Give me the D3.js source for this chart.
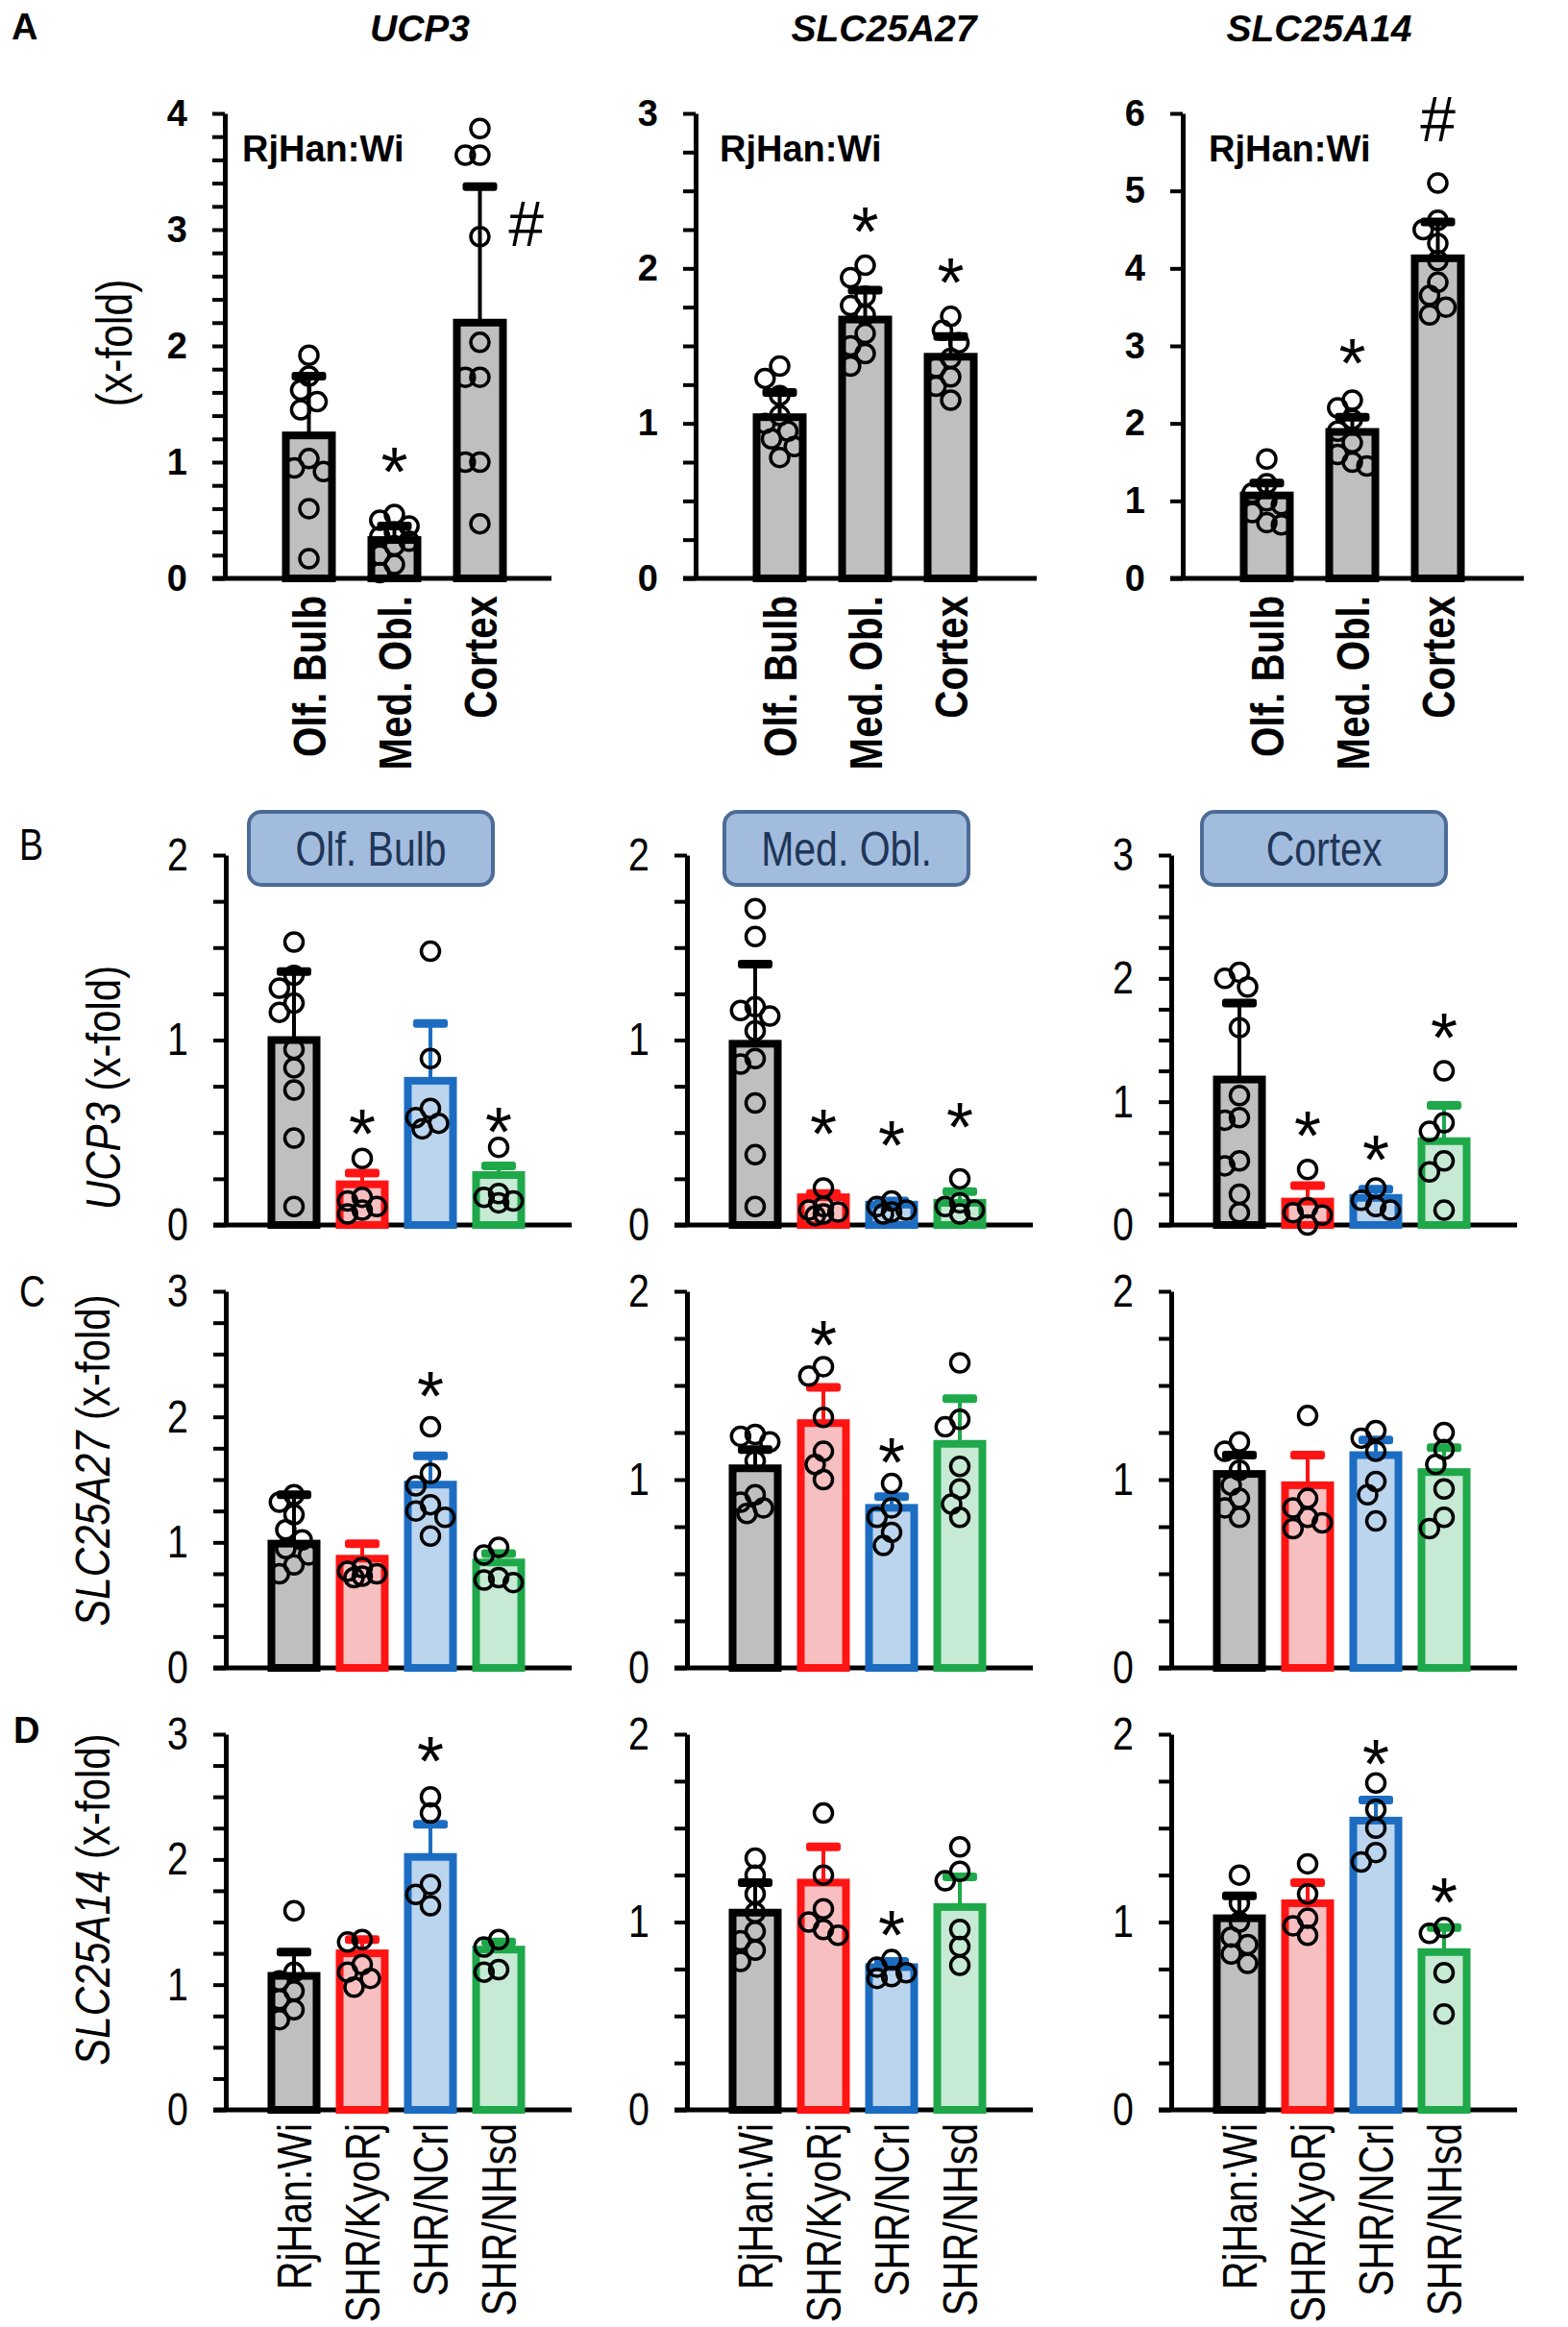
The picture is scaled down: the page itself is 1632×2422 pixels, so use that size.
<!DOCTYPE html>
<html>
<head>
<meta charset="utf-8">
<script src="https://cdn.jsdelivr.net/npm/d3@7"></script>
<style>
  body { margin: 0; background: #fff; }
  svg { display: block; }
</style>
</head>
<body>
<svg width="1632" height="2422"></svg>
<script>
// categorias
const regions = ["Olf. Bulb", "Med. Obl.", "Cortex"];
const strains = ["RjHan:Wi", "SHR/KyoRj", "SHR/NCrl", "SHR/NHsd"];
const genes = ["UCP3", "SLC25A27", "SLC25A14"];

// ---- panel A (RjHan:Wi, regiones) ----
const aUcp3Mean = [1.23, 0.33, 2.2];
const aUcp3Sd = [0.51, 0.12, 1.17];
const aUcp3Pts = [
  [1.92, 1.74, 1.62, 1.52, 1.45, 1.03, 0.95, 0.92, 0.6, 0.17],
  [0.55, 0.5, 0.45, 0.4, 0.36, 0.32, 0.28, 0.2, 0.12, 0.05],
  [3.87, 3.64, 3.64, 2.94, 2.03, 1.73, 1.73, 1.0, 1.0, 0.47]];
const aUcp3Sig = ["", "*", "#"];
const aUcp3SigAt = [null, 1.04, 3.05];

const aSlc27Mean = [1.04, 1.67, 1.43];
const aSlc27Sd = [0.16, 0.19, 0.13];
const aSlc27Pts = [
  [1.37, 1.29, 1.18, 1.05, 1.0, 0.95, 0.9, 0.85, 0.78],
  [2.02, 1.94, 1.82, 1.76, 1.7, 1.58, 1.5, 1.45, 1.37],
  [1.69, 1.6, 1.52, 1.42, 1.36, 1.3, 1.24, 1.15]];
const aSlc27Sig = ["", "*", "*"];
const aSlc27SigAt = [null, 2.33, 2.0];

const aSlc14Mean = [1.07, 1.89, 4.13];
const aSlc14Sd = [0.16, 0.19, 0.47];
const aSlc14Pts = [
  [1.54, 1.22, 1.1, 1.0, 0.95, 0.85, 0.72, 0.69],
  [2.3, 2.2, 2.05, 1.9, 1.75, 1.6, 1.5, 1.45],
  [5.1, 4.62, 4.5, 4.32, 4.1, 3.82, 3.65, 3.5, 3.4]];
const aSlc14Sig = ["", "*", "#"];
const aSlc14SigAt = [null, 2.96, 5.92];

// ---- panel B (UCP3 por cepa) ----
const bOlfMean = [1.0, 0.22, 0.78, 0.27];
const bOlfSd = [0.37, 0.06, 0.31, 0.05];
const bOlfPts = [
  [1.53, 1.35, 1.28, 1.2, 1.15, 0.95, 0.85, 0.73, 0.47, 0.1],
  [0.36, 0.15, 0.13, 0.1, 0.08, 0.06],
  [1.48, 0.9, 0.63, 0.58, 0.55, 0.52],
  [0.42, 0.17, 0.15, 0.13, 0.12]];
const bOlfSig = ["", "*", "", "*"];
const bOlfSigAt = [null, 0.57, null, 0.58];

const bMedMean = [0.98, 0.15, 0.11, 0.12];
const bMedSd = [0.43, 0.02, 0.02, 0.06];
const bMedPts = [
  [1.71, 1.56, 1.18, 1.16, 1.13, 1.05, 0.9, 0.87, 0.66, 0.38, 0.1],
  [0.2, 0.1, 0.08, 0.07, 0.06, 0.05],
  [0.13, 0.1, 0.08, 0.07, 0.06],
  [0.25, 0.12, 0.1, 0.08, 0.06]];
const bMedSig = ["", "*", "*", "*"];
const bMedSigAt = [null, 0.57, 0.51, 0.61];

const bCtxMean = [1.18, 0.19, 0.22, 0.68];
const bCtxSd = [0.62, 0.13, 0.07, 0.29];
const bCtxPts = [
  [2.05, 2.0, 1.93, 1.6, 1.05, 0.87, 0.85, 0.52, 0.48, 0.25, 0.1],
  [0.45, 0.14, 0.1, 0.08, 0.0],
  [0.3, 0.2, 0.15, 0.12],
  [1.25, 0.83, 0.76, 0.52, 0.43, 0.12]];
const bCtxSig = ["", "*", "*", "*"];
const bCtxSigAt = [null, 0.84, 0.65, 1.64];

// ---- panel C (SLC25A27 por cepa) ----
const cOlfMean = [0.99, 0.87, 1.46, 0.84];
const cOlfSd = [0.39, 0.12, 0.23, 0.07];
const cOlfPts = [
  [1.38, 1.32, 1.22, 1.1, 1.02, 0.95, 0.9, 0.82, 0.75],
  [0.8, 0.77, 0.75, 0.73, 0.72],
  [1.92, 1.55, 1.45, 1.3, 1.25, 1.2, 1.05],
  [0.96, 0.9, 0.72, 0.7, 0.68]];
const cOlfSig = ["", "", "*", ""];
const cOlfSigAt = [null, null, 2.28, null];

const cMedMean = [1.06, 1.3, 0.85, 1.19];
const cMedSd = [0.1, 0.19, 0.06, 0.24];
const cMedPts = [
  [1.24, 1.23, 1.2, 1.1, 0.92, 0.88, 0.85, 0.82],
  [1.6, 1.55, 1.33, 1.15, 1.08, 1.0],
  [0.98, 0.85, 0.8, 0.72, 0.65],
  [1.62, 1.32, 1.28, 1.07, 0.95, 0.87, 0.8]];
const cMedSig = ["", "*", "*", ""];
const cMedSigAt = [null, 1.79, 1.17, null];

const cCtxMean = [1.03, 0.97, 1.13, 1.04];
const cCtxSd = [0.1, 0.16, 0.08, 0.13];
const cCtxPts = [
  [1.2, 1.15, 1.05, 0.97, 0.9, 0.85, 0.8],
  [1.34, 0.9, 0.85, 0.8, 0.77, 0.74],
  [1.26, 1.22, 1.15, 0.99, 0.92, 0.78],
  [1.25, 1.16, 1.08, 0.95, 0.8, 0.74]];
const cCtxSig = ["", "", "", ""];
const cCtxSigAt = [null, null, null, null];

// ---- panel D (SLC25A14 por cepa) ----
const dOlfMean = [1.07, 1.25, 2.02, 1.28];
const dOlfSd = [0.19, 0.11, 0.26, 0.06];
const dOlfPts = [
  [1.59, 1.1, 1.03, 0.95, 0.88, 0.8, 0.72],
  [1.36, 1.34, 1.16, 1.1, 1.05, 0.98],
  [2.5, 2.37, 1.8, 1.72, 1.63],
  [1.36, 1.3, 1.12, 1.1]];
const dOlfSig = ["", "", "*", ""];
const dOlfSigAt = [null, null, 2.9, null];

const dMedMean = [1.05, 1.21, 0.76, 1.08];
const dMedSd = [0.16, 0.19, 0.03, 0.16];
const dMedPts = [
  [1.34, 1.25, 1.15, 1.05, 0.95, 0.9, 0.85, 0.79],
  [1.58, 1.25, 1.07, 1.0, 0.96, 0.93],
  [0.8, 0.76, 0.73, 0.71, 0.7],
  [1.4, 1.27, 1.22, 0.96, 0.87, 0.77]];
const dMedSig = ["", "", "*", ""];
const dMedSigAt = [null, null, 1.01, null];

const dCtxMean = [1.02, 1.1, 1.54, 0.84];
const dCtxSd = [0.12, 0.11, 0.11, 0.13];
const dCtxPts = [
  [1.25, 1.1, 1.0, 0.92, 0.88, 0.83, 0.78],
  [1.31, 1.15, 1.02, 0.98, 0.93],
  [1.74, 1.6, 1.5, 1.37, 1.32],
  [0.97, 0.94, 0.73, 0.51]];
const dCtxSig = ["", "", "*", "*"];
const dCtxSigAt = [null, null, 1.92, 1.18];

// colores por cepa
const strainStroke = ["#000000", "#ff1414", "#1c6dc2", "#1fa84a"];
const strainFill = ["#bfbfbf", "#f7bfbf", "#bcd5ee", "#c6ead3"];

const sans = "'Liberation Sans', Arial, sans-serif";
const NARROW = 0.82; // no hay Arial Narrow: se estrecha a mano

const svg = d3.select("svg");
svg.append("rect").attr("width", 1632).attr("height", 2422).attr("fill", "#fff");

// evita que los circulos se tapen del todo
function swarm(vals, y, r) {
  const placed = [];
  const offs = [0, -0.9 * r, 0.9 * r, -1.6 * r, 1.6 * r];
  return vals.map(v => {
    const py = y(v);
    let best = 0, bestD = -1;
    for (const o of offs) {
      const dmin = placed.length ? d3.min(placed, p => Math.hypot(p[0] - o, p[1] - py)) : Infinity;
      if (dmin >= 1.7 * r) { best = o; bestD = Infinity; break; }
      if (dmin > bestD) { bestD = dmin; best = o; }
    }
    placed.push([best, py]);
    return [best, py];
  });
}

function drawPanel(p) {
  const g = svg.append("g");
  const y = d3.scaleLinear().domain([0, p.max]).range([p.base, p.top]);
  const x = d3.scaleBand().domain(p.cats)
    .range([p.ax + p.off, p.ax + p.off + p.step * p.cats.length]);
  const cx = c => x(c) + x.bandwidth() / 2;

  // eje y
  const ticks = d3.range(0, p.max + 1e-6, p.minor);
  const pad = p.rowA ? 26 : 26;
  const yAxis = d3.axisLeft(y).tickValues(ticks).tickSize(13).tickSizeOuter(0)
    .tickPadding(pad)
    .tickFormat(d => Math.abs(d - Math.round(d)) < 1e-6 ? d3.format("d")(d) : "");
  const ga = g.append("g").attr("transform", `translate(${p.ax},0)`).call(yAxis);
  ga.select(".domain").attr("stroke-width", 5);
  ga.selectAll(".tick line").attr("stroke-width", 4);
  const tt = ga.selectAll(".tick text")
    .attr("fill", "#000")
    .style("font-family", sans)
    .style("font-weight", p.rowA ? "bold" : "normal")
    .style("font-size", p.rowA ? "38px" : "48px");
  if (!p.rowA) tt.attr("transform", `scale(${NARROW},1)`).attr("x", -(13 + pad) / NARROW);

  // linea base
  g.append("line")
    .attr("x1", p.ax - 13).attr("x2", p.ax + p.len)
    .attr("y1", y(0)).attr("y2", y(0))
    .attr("stroke", "#000").attr("stroke-width", 5);

  const barW = p.barW;
  const idx = d3.range(p.cats.length);
  const sc = i => p.rowA ? "#000" : strainStroke[i];
  const fc = i => p.rowA ? "#bfbfbf" : strainFill[i];

  // barras
  g.selectAll(".bar").data(idx).join("rect")
    .attr("x", i => cx(p.cats[i]) - barW / 2)
    .attr("y", i => y(p.mean[i]))
    .attr("width", barW)
    .attr("height", i => y(0) - y(p.mean[i]))
    .attr("fill", fc).attr("stroke", sc).attr("stroke-width", 8);

  // error (solo hacia arriba)
  g.selectAll(".eb").data(idx).join("line")
    .attr("x1", i => cx(p.cats[i])).attr("x2", i => cx(p.cats[i]))
    .attr("y1", i => y(p.mean[i])).attr("y2", i => y(p.mean[i] + p.sd[i]))
    .attr("stroke", sc).attr("stroke-width", 4);
  g.selectAll(".cap").data(idx).join("rect")
    .attr("x", i => cx(p.cats[i]) - 18)
    .attr("y", i => y(p.mean[i] + p.sd[i]) - 4.5)
    .attr("width", 36).attr("height", 9).attr("rx", 3)
    .attr("fill", sc);

  // puntos individuales
  const r = 9.5;
  idx.forEach(i => {
    const pos = swarm(p.pts[i], y, r);
    g.selectAll(null).data(pos).join("circle")
      .attr("cx", d => cx(p.cats[i]) + d[0])
      .attr("cy", d => d[1])
      .attr("r", r)
      .attr("fill", "none").attr("stroke", "#000").attr("stroke-width", 3.5);
  });

  // asteriscos y #
  idx.forEach(i => {
    const s = p.sig[i];
    if (!s) return;
    const isHash = s === "#";
    const dx = isHash && p.hashBeside ? 48 : 0;
    g.append("text")
      .attr("x", cx(p.cats[i]) + dx)
      .attr("y", y(p.sigAt[i]) + (isHash ? 23 : 40))
      .attr("text-anchor", "middle")
      .style("font-family", sans)
      .style("font-size", isHash ? "66px" : "72px")
      .text(s);
  });

  // etiquetas x giradas
  if (p.xlabels) {
    g.selectAll(".xl").data(p.cats).join("text")
      .attr("transform", d => `translate(${cx(d)},${y(0) + p.xgap}) rotate(-90) scale(${p.rowA ? 0.84 : NARROW},1)`)
      .attr("text-anchor", "end").attr("dy", "0.36em")
      .style("font-family", sans)
      .style("font-weight", p.rowA ? "bold" : "normal")
      .style("font-size", p.rowA ? "48px" : "50px")
      .text(d => d);
  }
  return { x, y, cx };
}

// --- fila A ---
const aX = [234, 724, 1231];
const aData = [
  [aUcp3Mean, aUcp3Sd, aUcp3Pts, aUcp3Sig, aUcp3SigAt, 4, 0.2],
  [aSlc27Mean, aSlc27Sd, aSlc27Pts, aSlc27Sig, aSlc27SigAt, 3, 0.25],
  [aSlc14Mean, aSlc14Sd, aSlc14Pts, aSlc14Sig, aSlc14SigAt, 6, 1]];
aData.forEach((d, k) => {
  drawPanel({
    rowA: true, cats: regions, ax: aX[k], off: 43, step: 89, len: k === 0 ? 340 : 355,
    barW: 48, top: 118, base: 602, max: d[5], minor: d[6],
    mean: d[0], sd: d[1], pts: d[2], sig: d[3], sigAt: d[4],
    hashBeside: k === 0, xlabels: true, xgap: 18
  });
});

const titleX = [437, 920, 1373];
svg.selectAll(".gt").data(genes).join("text")
  .attr("x", (d, i) => titleX[i]).attr("y", 43)
  .attr("text-anchor", "middle")
  .style("font-family", sans).style("font-weight", "bold").style("font-style", "italic")
  .style("font-size", "39px")
  .text(d => d);

const rjX = [252, 749, 1258];
rjX.forEach(xx => {
  svg.append("text").attr("x", xx).attr("y", 168)
    .style("font-family", sans).style("font-weight", "bold").style("font-size", "38px")
    .text(strains[0]);
});

svg.append("text")
  .attr("transform", `translate(118,357) rotate(-90) scale(${NARROW},1)`)
  .attr("text-anchor", "middle").attr("dy", "0.36em")
  .style("font-family", sans).style("font-size", "52px")
  .text("(x-fold)");

// --- filas B, C, D ---
const sX = [235, 715, 1219];
const rows = [
  { top: 890, base: 1275, sets: [
    [bOlfMean, bOlfSd, bOlfPts, bOlfSig, bOlfSigAt, 2],
    [bMedMean, bMedSd, bMedPts, bMedSig, bMedSigAt, 2],
    [bCtxMean, bCtxSd, bCtxPts, bCtxSig, bCtxSigAt, 3]] },
  { top: 1344, base: 1736, sets: [
    [cOlfMean, cOlfSd, cOlfPts, cOlfSig, cOlfSigAt, 3],
    [cMedMean, cMedSd, cMedPts, cMedSig, cMedSigAt, 2],
    [cCtxMean, cCtxSd, cCtxPts, cCtxSig, cCtxSigAt, 2]] },
  { top: 1805, base: 2196, sets: [
    [dOlfMean, dOlfSd, dOlfPts, dOlfSig, dOlfSigAt, 3],
    [dMedMean, dMedSd, dMedPts, dMedSig, dMedSigAt, 2],
    [dCtxMean, dCtxSd, dCtxPts, dCtxSig, dCtxSigAt, 2]] }];

rows.forEach((row, ri) => {
  row.sets.forEach((d, k) => {
    drawPanel({
      rowA: false, cats: strains, ax: sX[k], off: 35.5, step: 71, len: 360,
      barW: 47, top: row.top, base: row.base, max: d[5], minor: 0.25,
      mean: d[0], sd: d[1], pts: d[2], sig: d[3], sigAt: d[4],
      xlabels: ri === 2, xgap: 14
    });
  });
});

// cajas de region (fila B)
const boxX = [259, 754, 1251];
regions.forEach((reg, i) => {
  svg.append("rect")
    .attr("x", boxX[i]).attr("y", 845).attr("width", 254).attr("height", 76)
    .attr("rx", 13).attr("fill", "#a2bcde").attr("stroke", "#4c6b96").attr("stroke-width", 4);
  svg.append("text")
    .attr("transform", `translate(${boxX[i] + 127},883) scale(${NARROW},1)`)
    .attr("dy", "0.36em")
    .attr("text-anchor", "middle").attr("fill", "#1f3658")
    .style("font-family", sans).style("font-size", "50px")
    .text(reg);
});

// titulos del eje y en B, C, D
const yTitles = [
  { gene: "UCP3", x: 107, y: 1132 },
  { gene: "SLC25A27", x: 96, y: 1520 },
  { gene: "SLC25A14", x: 96, y: 1977 }];
yTitles.forEach(t => {
  const tx = svg.append("text")
    .attr("transform", `translate(${t.x},${t.y}) rotate(-90) scale(0.84,1)`)
    .attr("text-anchor", "middle").attr("dy", "0.36em")
    .style("font-family", sans).style("font-size", "50px");
  tx.append("tspan").style("font-style", "italic").text(t.gene);
  tx.append("tspan").text(" (x-fold)");
});

// letras de panel
const letters = [
  { t: "A", x: 12, y: 41, w: "bold", s: 38, k: 1 },
  { t: "B", x: 20, y: 895, w: "normal", s: 46, k: NARROW },
  { t: "C", x: 20, y: 1360, w: "normal", s: 46, k: NARROW },
  { t: "D", x: 14, y: 1814, w: "bold", s: 38, k: 1 }];
letters.forEach(l => {
  svg.append("text").attr("transform", `translate(${l.x},${l.y}) scale(${l.k},1)`)
    .style("font-family", sans).style("font-weight", l.w).style("font-size", l.s + "px")
    .text(l.t);
});
</script>
</body>
</html>
